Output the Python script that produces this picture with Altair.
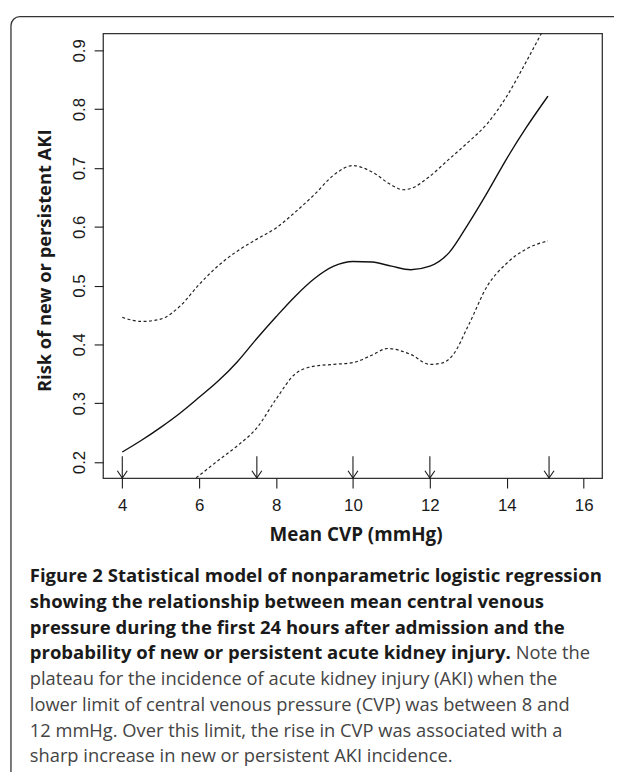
import altair as alt
import pandas as pd

# ---- data ----
fit_x = [4.0, 4.5, 5.0, 5.5, 6.0, 6.5, 7.0, 7.5, 8.0, 8.5, 9.0, 9.5, 10.0, 10.5,
         11.0, 11.5, 12.0, 12.5, 13.0, 13.5, 14.0, 14.5, 15.07]
fit_y = [0.217, 0.237, 0.259, 0.283, 0.310, 0.338, 0.371, 0.410, 0.447, 0.482, 0.512,
         0.533, 0.541, 0.540, 0.533, 0.527, 0.533, 0.556, 0.605, 0.659, 0.716, 0.768, 0.822]

upper_x = [4.0, 4.5, 5.0, 5.5, 6.0, 6.5, 7.0, 7.5, 8.0, 8.5, 9.0, 9.5, 10.0, 10.5,
           11.0, 11.3, 11.5, 12.0, 12.5, 13.0, 13.5, 14.0, 14.5, 15.07]
upper_y = [0.446, 0.439, 0.443, 0.465, 0.502, 0.534, 0.559, 0.579, 0.598, 0.625, 0.655,
           0.688, 0.704, 0.693, 0.671, 0.663, 0.665, 0.686, 0.715, 0.744, 0.776, 0.822,
           0.880, 0.950]

lower_x = [4.0, 5.0, 5.9, 6.5, 7.0, 7.5, 8.0, 8.5, 9.0, 9.5, 10.0, 10.5, 10.9, 11.5,
           12.0, 12.3, 12.6, 13.0, 13.5, 14.0, 14.5, 15.07]
lower_y = [0.095, 0.130, 0.172, 0.203, 0.228, 0.258, 0.307, 0.350, 0.363, 0.366, 0.369,
           0.382, 0.393, 0.383, 0.366, 0.368, 0.382, 0.432, 0.500, 0.538, 0.562, 0.576]

arrow_x = [4.0, 7.5, 10.0, 12.0, 15.1]
arrow_top = 0.21

x_ticks = [4, 6, 8, 10, 12, 14, 16]
y_ticks = [0.2, 0.3, 0.4, 0.5, 0.6, 0.7, 0.8, 0.9]
x_domain = [3.5, 16.48]
y_domain = [0.1726, 0.9286]

x_title = "Mean CVP (mmHg)"
y_title = "Risk of new or persistent AKI"

caption_bold = [
    "Figure 2 Statistical model of nonparametric logistic regression",
    "showing the relationship between mean central venous",
    "pressure during the first 24 hours after admission and the",
    "probability of new or persistent acute kidney injury.",
]
caption_tail = "Note the"
caption_normal = [
    "plateau for the incidence of acute kidney injury (AKI) when the",
    "lower limit of central venous pressure (CVP) was between 8 and",
    "12 mmHg. Over this limit, the rise in CVP was associated with a",
    "sharp increase in new or persistent AKI incidence.",
]

W, H = 504, 449
INK = "#1a1a1a"
TICKFONT = "Liberation Sans, Arial, Helvetica, sans-serif"
TEXTFONT = "Open Sans, sans-serif"

fit_df = pd.DataFrame({"cvp": fit_x, "risk": fit_y})
up_df = pd.DataFrame({"cvp": upper_x, "risk": upper_y})
lo_df = pd.DataFrame({"cvp": lower_x, "risk": lower_y})
ar_df = pd.DataFrame({"cvp": arrow_x, "top": [arrow_top] * len(arrow_x),
                      "bot": [y_domain[0]] * len(arrow_x)})
one = pd.DataFrame({"k": [1]})

xs = alt.Scale(domain=x_domain, nice=False, zero=False)
ys = alt.Scale(domain=y_domain, nice=False, zero=False)

x_axis = alt.Axis(values=x_ticks, title=x_title, grid=False, domain=False,
                  tickSize=10, tickColor=INK, tickWidth=1.1,
                  labelFont=TICKFONT, labelFontSize=17, labelColor=INK,
                  labelPadding=10, labelFlush=False,
                  titleFont=TEXTFONT, titleFontSize=19, titleFontWeight="bold",
                  titleColor=INK, titleX=255, titleY=62.7,
                  titleBaseline="alphabetic", titleAlign="center")
y_axis = alt.Axis(values=y_ticks, format=".1f", title=y_title, grid=False, domain=False,
                  tickSize=9, tickColor=INK, tickWidth=1.1,
                  labelFont=TICKFONT, labelFontSize=17, labelColor=INK,
                  labelAngle=270, labelAlign="center", labelBaseline="alphabetic",
                  labelPadding=10, labelFlush=False,
                  titleFont=TEXTFONT, titleFontSize=18.5, titleFontWeight="bold",
                  titleColor=INK, titleAngle=270, titleX=-59, titleY=229,
                  titleBaseline="middle", titleAlign="center")

base_x = alt.X("cvp:Q", scale=xs, axis=x_axis)
base_y = alt.Y("risk:Q", scale=ys, axis=y_axis)

fit = alt.Chart(fit_df).mark_line(interpolate="monotone", clip=True, color="#111",
                                  strokeWidth=1.4).encode(x=base_x, y=base_y)
upper = alt.Chart(up_df).mark_line(interpolate="monotone", clip=True, color="#222",
                                   strokeWidth=1.2, strokeDash=[3, 2.5]).encode(
    x=alt.X("cvp:Q", scale=xs), y=alt.Y("risk:Q", scale=ys))
lower = alt.Chart(lo_df).mark_line(interpolate="monotone", clip=True, color="#222",
                                   strokeWidth=1.2, strokeDash=[3, 2.5]).encode(
    x=alt.X("cvp:Q", scale=xs), y=alt.Y("risk:Q", scale=ys))

arrows = alt.Chart(ar_df).mark_rule(color=INK, strokeWidth=1.1).encode(
    x=alt.X("cvp:Q", scale=xs), y=alt.Y("top:Q", scale=ys), y2="bot:Q")
heads = alt.Chart(ar_df).mark_point(shape="M-1,-1.5L0,0L1,-1.5", size=100, filled=False,
                                    color=INK, strokeWidth=1.1, opacity=1).encode(
    x=alt.X("cvp:Q", scale=xs), y=alt.Y("bot:Q", scale=ys))

box = alt.Chart(one).mark_rect(fillOpacity=0, stroke="#333", strokeWidth=1.3,
                               cornerRadius=9).encode(
    x=alt.value(-93), x2=alt.value(900), y=alt.value(-17), y2=alt.value(1000))

cap_b = alt.Chart(one).mark_text(text=caption_bold, align="left", baseline="alphabetic",
                                 font=TEXTFONT, fontSize=18.7, fontWeight="bold",
                                 lineHeight=26, color=INK).encode(
    x=alt.value(-74), y=alt.value(554))
cap_t = alt.Chart(one).mark_text(text=caption_tail, align="left", baseline="alphabetic",
                                 font=TEXTFONT, fontSize=18.5, color="#444").encode(
    x=alt.value(416.7), y=alt.value(554 + 3 * 26))
cap_n = alt.Chart(one).mark_text(text=caption_normal, align="left", baseline="alphabetic",
                                 font=TEXTFONT, fontSize=18.5, lineHeight=26,
                                 color="#444").encode(
    x=alt.value(-74), y=alt.value(554 + 4 * 26))

chart = alt.layer(box, fit, upper, lower, arrows, heads, cap_b, cap_t, cap_n).properties(
    width=W, height=H,
    autosize=alt.AutoSizeParams(type="none"),
    padding={"left": 96, "top": 22, "right": 12, "bottom": 293},
    background="white",
).configure_view(stroke="#333", strokeWidth=1.3)

chart.save("out.html", embed_options={"renderer": "svg", "actions": False})
